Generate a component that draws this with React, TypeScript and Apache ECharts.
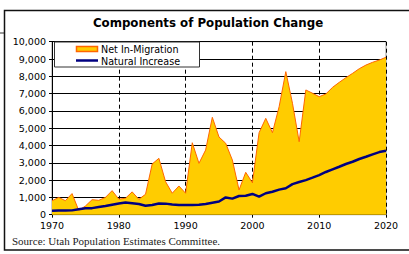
import React, { useEffect, useRef } from "react";
import * as echarts from "echarts";

const years: number[] = [];
for (let y = 1970; y <= 2020; y++) years.push(y);

const netMigration = [
  800, 1000, 810, 1220, 250, 500, 870, 830, 1000, 1390,
  900, 950, 1320, 890, 1180, 2930, 3260, 1910, 1240, 1660,
  1240, 4160, 2970, 3740, 5630, 4490, 4130, 3160, 1430, 2450,
  1850, 4740, 5570, 4740, 6240, 8270, 6440, 4220, 7210, 7020,
  6820, 6980, 7360, 7650, 7920, 8170, 8440, 8650, 8810, 8940,
  9100,
];

const naturalIncrease = [
  230, 240, 240, 250, 320, 370, 380, 440, 500, 580,
  650, 700, 660, 620, 520, 560, 650, 640, 590, 560,
  560, 560, 570, 620, 690, 760, 1000, 930, 1080, 1100,
  1200, 1040, 1240, 1330, 1450, 1530, 1770, 1890, 2000, 2140,
  2290, 2470, 2620, 2770, 2930, 3060, 3220, 3350, 3490, 3620,
  3700,
];

const titleText = "Components of Population Change";
const sourceText = "Source: Utah Population Estimates Committee.";
const seriesNames = ["Net In-Migration", "Natural Increase"];

export default function App() {
  const ref = useRef<HTMLDivElement>(null);
  useEffect(() => {
    if (!ref.current) return;
    const chart = echarts.init(ref.current, null, { renderer: "svg" });
    const font = "DejaVu Sans";
    chart.setOption({
      animation: false,
      backgroundColor: "#fff",
      textStyle: { fontFamily: font },
      title: {
        text: titleText,
        left: 203,
        textAlign: "center",
        top: 12,
        textStyle: { fontFamily: font, fontWeight: "bold", fontSize: 11.8, color: "#000" },
      },
      grid: {
        left: 52,
        right: 23,
        top: 41.7,
        bottom: 39.3,
        show: true,
        borderColor: "#999",
        borderWidth: 1,
        backgroundColor: "transparent",
      },
      xAxis: {
        type: "value",
        min: 1970,
        max: 2020,
        interval: 10,
        axisLine: { lineStyle: { color: "#000", width: 1 } },
        axisTick: { show: true, inside: false, length: 3, lineStyle: { color: "#000" } },
        axisLabel: {
          color: "#000",
          fontSize: 9.5,
          fontFamily: font,
          margin: 6,
          formatter: (v: number) => String(v),
        },
        splitLine: { show: true, lineStyle: { color: "#000", type: [4, 3], width: 1 } },
      },
      yAxis: {
        type: "value",
        min: 0,
        max: 10000,
        interval: 1000,
        axisLine: { show: true, lineStyle: { color: "#000", width: 1 } },
        axisTick: { show: true, inside: false, length: 3, lineStyle: { color: "#000" } },
        axisLabel: {
          color: "#000",
          fontSize: 9.5,
          fontFamily: font,
          margin: 6,
          formatter: (v: number) => v.toLocaleString("en-US"),
        },
        splitLine: { show: true, lineStyle: { color: "#000", width: 1 } },
      },
      series: [
        {
          name: seriesNames[0],
          type: "line",
          data: years.map((y, i) => [y, netMigration[i]]),
          showSymbol: false,
          lineStyle: { color: "#FF6600", width: 1 },
          itemStyle: { color: "#FFCC00" },
          areaStyle: { color: "#FFCC00", opacity: 1 },
          z: 3,
        },
        {
          name: seriesNames[1],
          type: "line",
          data: years.map((y, i) => [y, naturalIncrease[i]]),
          showSymbol: false,
          lineStyle: { color: "#000080", width: 2.5 },
          itemStyle: { color: "#000080" },
          z: 4,
        },
      ],
      graphic: [
        {
          type: "rect",
          shape: { x: 4.5, y: 10.5, width: 420, height: 239.5 },
          style: { fill: "none", stroke: "#111", lineWidth: 1.5 },
          silent: true,
          z: 1,
        },
        {
          type: "line",
          shape: { x1: 0, y1: 33, x2: 4, y2: 33 },
          style: { stroke: "#999", lineWidth: 2 },
          silent: true,
        },
        {
          type: "rect",
          shape: { x: 54.5, y: 42, width: 145, height: 25 },
          style: { fill: "#fff", stroke: "#333", lineWidth: 1 },
          z: 100,
        },
        {
          type: "rect",
          shape: { x: 76.5, y: 46.5, width: 21, height: 5 },
          style: { fill: "#FFCC00", stroke: "#FF6600", lineWidth: 1.5 },
          z: 101,
        },
        {
          type: "line",
          shape: { x1: 76, y1: 60.5, x2: 98, y2: 60.5 },
          style: { stroke: "#000080", lineWidth: 2.5 },
          z: 101,
        },
        {
          type: "text",
          x: 101,
          y: 49,
          style: {
            text: seriesNames[0],
            fontFamily: font,
            fontSize: 9.6,
            fill: "#000",
            verticalAlign: "middle",
          },
          z: 101,
        },
        {
          type: "text",
          x: 101,
          y: 61,
          style: {
            text: seriesNames[1],
            fontFamily: font,
            fontSize: 9.6,
            fill: "#000",
            verticalAlign: "middle",
          },
          z: 101,
        },
        {
          type: "text",
          x: 12,
          y: 241,
          style: {
            text: sourceText,
            fontFamily: "Liberation Serif",
            fontSize: 11,
            fill: "#222",
            verticalAlign: "middle",
          },
          z: 101,
        },
      ],
    });
    return () => chart.dispose();
  }, []);
  return (
    <div
      ref={ref}
      style={{ position: "fixed", left: 0, top: 0, width: 409, height: 254 }}
    />
  );
}
